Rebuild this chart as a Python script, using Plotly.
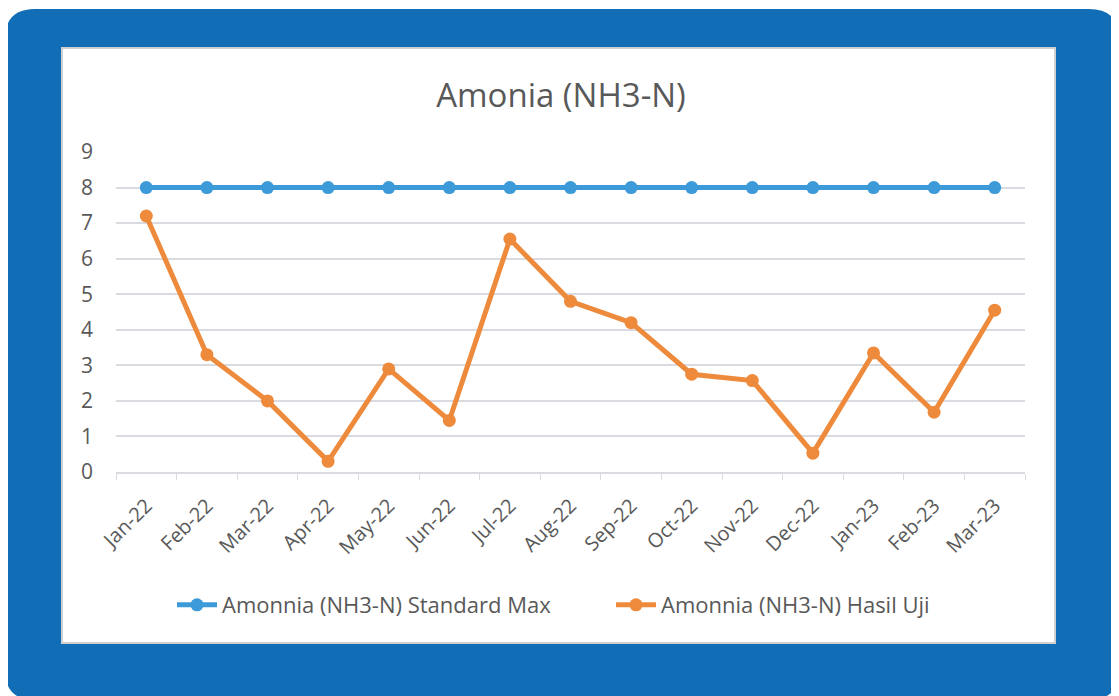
import plotly.graph_objects as go

months = [
    "Jan-22", "Feb-22", "Mar-22", "Apr-22", "May-22", "Jun-22", "Jul-22", "Aug-22",
    "Sep-22", "Oct-22", "Nov-22", "Dec-22", "Jan-23", "Feb-23", "Mar-23",
]
standard_max = [8, 8, 8, 8, 8, 8, 8, 8, 8, 8, 8, 8, 8, 8, 8]
hasil_uji = [7.2, 3.3, 2.0, 0.3, 2.9, 1.45, 6.55, 4.8, 4.2, 2.75, 2.57, 0.53, 3.35, 1.68, 4.55]
y_ticks = [0, 1, 2, 3, 4, 5, 6, 7, 8, 9]

# the page body keeps its default 8px margin, so the figure is drawn from (8, 8)
OFF = 8
W, H = 1119 - OFF, 696 - OFF
M_L, M_R, M_T, M_B = 116 - OFF, 94, 152 - OFF, 224
PW, PH = W - M_L - M_R, H - M_T - M_B

BLUE_BG = "#106db6"
GRID = "#d9dbe0"
TEXT = "#595959"


def px(x):
    # screen pixel -> paper x
    return (x - OFF - M_L) / PW


def py(y):
    # screen pixel -> paper y
    return (H - M_B - (y - OFF)) / PH


def rounded_rect(x0, y0, x1, y1, r):
    rx, ry = r / PW, r / PH
    a, b, c, d = px(x0), px(x1), py(y0), py(y1)
    return (
        f"M {a + rx},{c} L {b - rx},{c} Q {b},{c} {b},{c - ry} "
        f"L {b},{d + ry} Q {b},{d} {b - rx},{d} "
        f"L {a + rx},{d} Q {a},{d} {a},{d + ry} "
        f"L {a},{c - ry} Q {a},{c} {a + rx},{c} Z"
    )


fig = go.Figure()
fig.add_trace(
    go.Scatter(
        x=months,
        y=standard_max,
        mode="lines+markers",
        name="Amonnia (NH3-N) Standard Max",
        line=dict(color="#3d9ad8", width=5),
        marker=dict(size=13, color="#3d9ad8"),
    )
)
fig.add_trace(
    go.Scatter(
        x=months,
        y=hasil_uji,
        mode="lines+markers",
        name="Amonnia (NH3-N) Hasil Uji",
        line=dict(color="#ee8a3c", width=5),
        marker=dict(size=13, color="#ee8a3c"),
    )
)

shapes = [
    dict(
        type="path",
        xref="paper",
        yref="paper",
        path=rounded_rect(5, 9, 1119, 700, 30),
        fillcolor=BLUE_BG,
        line=dict(width=0),
        layer="below",
    ),
    dict(
        type="rect",
        xref="paper",
        yref="paper",
        x0=px(62),
        x1=px(1055),
        y0=py(48),
        y1=py(643),
        fillcolor="white",
        line=dict(color="#d0d0d0", width=2),
        layer="below",
    ),
]

fig.update_layout(
    width=W,
    height=H,
    margin=dict(l=M_L, r=M_R, t=M_T, b=M_B, autoexpand=False),
    paper_bgcolor="white",
    plot_bgcolor="rgba(0,0,0,0)",
    font=dict(family="Open Sans, sans-serif", color=TEXT, size=18),
    title=dict(
        text="Amonia (NH3-N)",
        x=(561 - OFF) / W,
        xanchor="center",
        y=1 - (95 - OFF) / H,
        yanchor="middle",
        font=dict(size=33, color=TEXT),
    ),
    shapes=shapes,
    showlegend=True,
    legend=dict(
        orientation="h",
        x=px(611),
        xanchor="center",
        y=py(605),
        yanchor="middle",
        font=dict(size=22, color=TEXT),
        bgcolor="rgba(0,0,0,0)",
        itemwidth=40,
        entrywidth=384,
        entrywidthmode="pixels",
    ),
)
fig.update_xaxes(
    type="category",
    range=[-0.5, len(months) - 0.5],
    tickangle=-45,
    tickson="boundaries",
    ticks="outside",
    ticklen=6,
    tickcolor=GRID,
    showline=True,
    linecolor=GRID,
    linewidth=2,
    showgrid=False,
    ticklabelstandoff=12,
    tickfont=dict(size=20, color=TEXT),
)
fig.update_yaxes(
    range=[0, 9],
    tickvals=y_ticks,
    showgrid=True,
    gridcolor=GRID,
    gridwidth=2,
    zeroline=False,
    showline=False,
    ticklabelstandoff=22,
    tickfont=dict(size=21, color=TEXT),
)

fig.write_html("out.html")
